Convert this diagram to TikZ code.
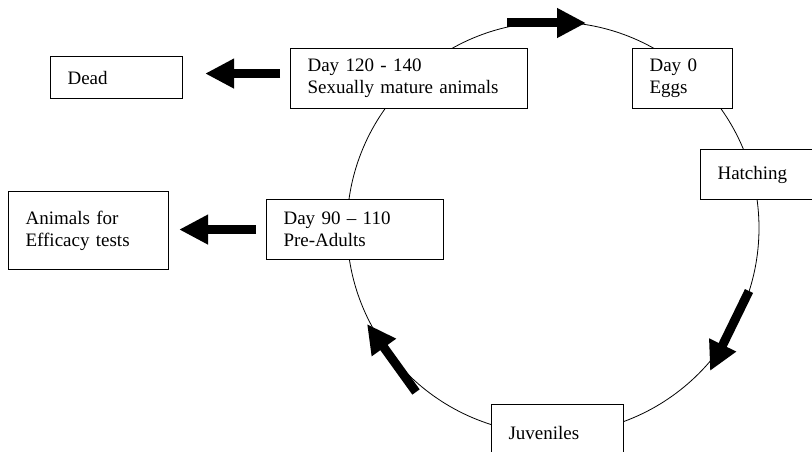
\documentclass[tikz,border=0pt]{standalone}
\usepackage{fontspec}
\setmainfont{Liberation Serif}
\usetikzlibrary{arrows.meta}
\tikzset{
  stagebox/.style={draw,line width=1.1pt,fill=white,anchor=north west,align=left,
    inner xsep=17pt,inner ysep=0pt,font=\fontsize{19}{22}\selectfont},
  blockarrow/.style={line width=9pt,-{Triangle[length=29pt,width=28pt]}}
}
\begin{document}
\begin{tikzpicture}[x=1pt,y=-1pt]
    \useasboundingbox(0,0)rectangle(812,452);
    \coordinate(O) at (553,228);
    \draw[line width=0.8pt](O)circle(206pt);
    \node[stagebox,text width=98,minimum height=42](dead) at (50,56){Dead};
    \node[stagebox,text width=203,minimum height=60](mature) at (290,48){Day 120 - 140\\Sexually mature animals};
    \node[stagebox,text width=66,minimum height=60](eggs) at (632,48){Day 0\\Eggs};
    \node[stagebox,text width=81,minimum height=50](hatch) at (700,149){Hatching};
    \node[stagebox,text width=143,minimum height=60](preadult) at (266,199){Day 90 -- 110\\Pre-Adults};
    \node[stagebox,text width=126,minimum height=78](efficacy) at (8,191){Animals for\\Efficacy tests};
    \node[stagebox,text width=98,minimum height=56](juv) at (491,404){Juveniles};
    % arrows on the circle
    \coordinate(T1) at (507,23);
    \coordinate(T2) at (586,23);
    \coordinate(R1) at (749,291);
    \coordinate(R2) at (710,371);
    \coordinate(L1) at (416,392);
    \coordinate(L2) at (367,324);
    \draw[blockarrow](T1)--(T2);
    \draw[blockarrow](R1)--(R2);
    \draw[blockarrow](L1)--(L2);
    % arrows out of the cycle
    \draw[blockarrow,shorten <=10pt,shorten >=22pt]([yshift=5pt]mature.west)--([yshift=5pt]mature.west -| dead.east);
    \draw[blockarrow,shorten <=10pt,shorten >=10pt](preadult.west)--(preadult.west -| efficacy.east);
\end{tikzpicture}
\end{document}
